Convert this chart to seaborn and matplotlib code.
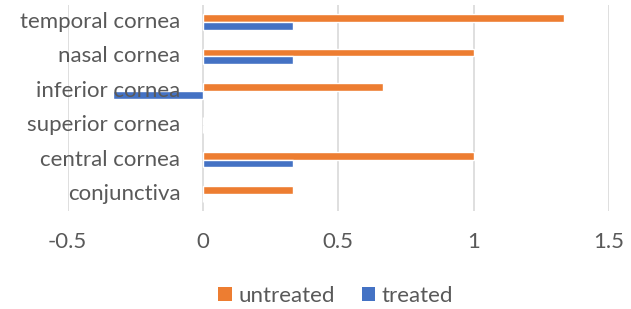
import matplotlib
matplotlib.use("Agg")
import matplotlib.pyplot as plt
import seaborn as sns
import pandas as pd
from matplotlib.patches import Patch

categories = ["temporal cornea", "nasal cornea", "inferior cornea",
              "superior cornea", "central cornea", "conjunctiva"]
untreated = [1.333, 1.0, 0.667, 0.0, 1.0, 0.333]
treated = [0.333, 0.333, -0.333, 0.0, 0.333, 0.0]
series = ["untreated", "treated"]
xticks = [-0.5, 0, 0.5, 1, 1.5]
xticklabels = ["-0.5", "0", "0.5", "1", "1.5"]

df = pd.DataFrame({
    "category": categories * 2,
    "value": untreated + treated,
    "series": [series[0]] * len(categories) + [series[1]] * len(categories),
})

colors = {"untreated": "#ED7D31", "treated": "#4472C4"}
text_color = "#595959"

sns.set_theme(style="white")
plt.rcParams["font.family"] = ["Lato", "DejaVu Sans"]

fig = plt.figure(figsize=(6.31, 3.09), dpi=100)
ax = fig.add_axes([0.107, 0.317, 0.858, 0.667])

sns.barplot(data=df, x="value", y="category", hue="series", order=categories,
            hue_order=series, palette=colors, orient="h", width=0.45, gap=0,
            dodge=True, ax=ax, legend=False, saturation=1)

ax.set_xlim(-0.5, 1.5)
ax.set_ylim(len(categories) - 0.5, -0.5)
ax.set_xticks(xticks)
ax.set_xticklabels(xticklabels, fontsize=16, color=text_color)
ax.tick_params(axis="x", length=0, pad=15)
ax.set_yticks([])
ax.set_xlabel("")
ax.set_ylabel("")
for s in ax.spines.values():
    s.set_visible(False)
ax.grid(axis="x", color="#D9D9D9", linewidth=1.2)
ax.set_axisbelow(True)

for i, c in enumerate(categories):
    ax.text(-0.083, i, c, ha="right", va="center", fontsize=16,
            color=text_color, zorder=1)

handles = [Patch(facecolor=colors[s], edgecolor="none", label=s) for s in series]
fig.legend(handles=handles, loc="center", bbox_to_anchor=(0.532, 0.043), ncol=2,
           frameon=False, fontsize=16, labelcolor=text_color,
           handlelength=0.6, handleheight=0.6, handletextpad=0.3, columnspacing=1.2)

fig.savefig("out.png", dpi=100)
